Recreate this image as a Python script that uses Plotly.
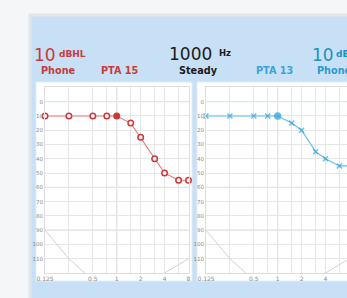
import math
import plotly.graph_objects as go

# ---------------- data ----------------
freqs = [0.125, 0.25, 0.5, 0.75, 1, 1.5, 2, 3, 4, 6, 8]
left_db = [10, 10, 10, 10, 10, 15, 25, 40, 50, 55, 55]
right_db = [10, 10, 10, 10, 10, 15, 20, 35, 40, 45, 45]
current_freq = 1
limit_freq = [0.125, 0.25, 0.5, 1, 2, 4, 8]
limit_db = [90, 110, 125, 125, 125, 120, 110]
x_tick_labels = {0.125: "0.125", 0.5: "0.5", 1: "1", 2: "2", 4: "4", 8: "8"}
y_ticks = [0, 10, 20, 30, 40, 50, 60, 70, 80, 90, 100, 110]
y_strong = [30, 60, 90]

W, H = 347, 298
RED = "#c93a3a"
RED_LINE = "#ec7a7a"
BLUE = "#2b9fd6"
BLUE_LINE = "#5cbfea"
FONT = "DejaVu Sans"


def px(x):
    return x / W


def py(y):
    return 1 - y / H


fig = go.Figure()

ticktext = [x_tick_labels.get(f, "") for f in freqs]

# limit curves
for xa, ya in (("x", "y"), ("x2", "y2")):
    fig.add_trace(go.Scatter(x=limit_freq, y=limit_db, mode="lines",
                             line=dict(color="#d2d2d2", width=1),
                             xaxis=xa, yaxis=ya, hoverinfo="skip",
                             showlegend=False))

# left (red) ear
fig.add_trace(go.Scatter(
    x=freqs, y=left_db, mode="lines+markers", xaxis="x", yaxis="y",
    line=dict(color=RED_LINE, width=1.1),
    marker=dict(symbol="circle", size=5.5,
                color=[RED if f == current_freq else "#fff4f4" for f in freqs],
                line=dict(color=RED, width=1.5)),
    cliponaxis=False, showlegend=False))

# right (blue) ear
fig.add_trace(go.Scatter(
    x=freqs, y=right_db, mode="lines+markers", xaxis="x2", yaxis="y2",
    line=dict(color=BLUE_LINE, width=1.1),
    marker=dict(symbol=["circle" if f == current_freq else "x-thin" for f in freqs],
                size=[6 if f == current_freq else 5 for f in freqs],
                color=BLUE,
                line=dict(color=BLUE, width=1.4)),
    cliponaxis=False, showlegend=False))

shapes = []
# blue panel
shapes.append(dict(type="rect", xref="paper", yref="paper",
                   x0=px(30), x1=px(360), y0=py(310), y1=py(15),
                   fillcolor="#c7e0f5", line=dict(color="#dfe6ec", width=3),
                   layer="below"))
# white chart panels
for x0, x1 in ((36, 192), (197, 360)):
    shapes.append(dict(type="rect", xref="paper", yref="paper",
                       x0=px(x0), x1=px(x1), y0=py(281), y1=py(82),
                       fillcolor="white", line=dict(color="#e2edf6", width=1),
                       layer="below"))

for xa, ya in (("x", "y"), ("x2", "y2")):
    for v in y_strong:
        shapes.append(dict(type="line", xref=f"{xa} domain", yref=ya,
                           x0=0, x1=1, y0=v, y1=v,
                           line=dict(color="#cfcfcf", width=1), layer="below"))
    shapes.append(dict(type="line", xref=f"{xa} domain", yref=ya,
                       x0=0, x1=1, y0=0, y1=0,
                       line=dict(color="#a9d8d6", width=1), layer="below"))
    shapes.append(dict(type="line", xref=xa, yref=f"{ya} domain",
                       x0=current_freq, x1=current_freq, y0=0, y1=1,
                       line=dict(color="#c8c8c8", width=1), layer="below"))

ann = []


def text(t, x, y, size, color, bold=False):
    ann.append(dict(text=f"<b>{t}</b>" if bold else t, xref="paper", yref="paper",
                    x=px(x), y=py(y), xanchor="left", yanchor="middle",
                    showarrow=False,
                    font=dict(family=FONT, size=size, color=color)))


text("10", 32, 55, 17, RED)
text("dBHL", 57, 54, 9, RED, True)
text("Phone", 39, 70, 9.7, RED, True)
text("PTA 15", 99, 70, 9.7, RED, True)
text("1000", 167, 54.5, 17, "#1b1b1b")
text("Hz", 217, 53, 8.5, "#1b1b1b", True)
text("Steady", 177, 70, 9.7, "#1b1b1b", True)
text("PTA 13", 254, 70, 9.7, "#3aa3da", True)
text("10", 310, 55, 17, "#1f8fbf")
text("dBHL", 334, 54, 9, "#1f8fbf", True)
text("Phone", 315, 70, 9.7, "#2a9ad0", True)

x_right_end = 0.125 * 2 ** ((W - 206) / 23.9)

common_x = dict(type="log", tickvals=freqs, ticktext=ticktext, showgrid=True,
                gridcolor="#e6e6e6", gridwidth=1, ticks="",
                tickfont=dict(family=FONT, size=6, color="#8a8a8a"),
                showline=True, mirror=True, linecolor="#dddddd", linewidth=1,
                fixedrange=True, tickangle=0, automargin=False)
common_y = dict(range=[120, -10], tickvals=y_ticks, showgrid=True,
                gridcolor="#e6e6e6", gridwidth=1, zeroline=False, ticks="",
                tickfont=dict(family=FONT, size=5.5, color="#8a8a8a"),
                showline=True, mirror=True, linecolor="#dddddd", linewidth=1,
                domain=[py(273), py(87.4)], fixedrange=True, automargin=False)

fig.update_layout(
    width=W, height=H, autosize=False,
    margin=dict(l=0, r=0, t=0, b=0, pad=0, autoexpand=False),
    paper_bgcolor="#f4f6f8", plot_bgcolor="white",
    xaxis=dict(common_x, domain=[px(45), px(188.5)],
               range=[math.log10(0.125), math.log10(8)], anchor="y"),
    yaxis=dict(common_y, anchor="x"),
    xaxis2=dict(common_x, domain=[px(206), 1],
                range=[math.log10(0.125), math.log10(x_right_end)], anchor="y2"),
    yaxis2=dict(common_y, anchor="x2"),
    shapes=shapes, annotations=ann, showlegend=False,
)

fig.write_html(
    "out.html",
    config={"displayModeBar": False},
    post_script="document.body.style.margin='0';document.body.style.overflow='hidden';",
)
